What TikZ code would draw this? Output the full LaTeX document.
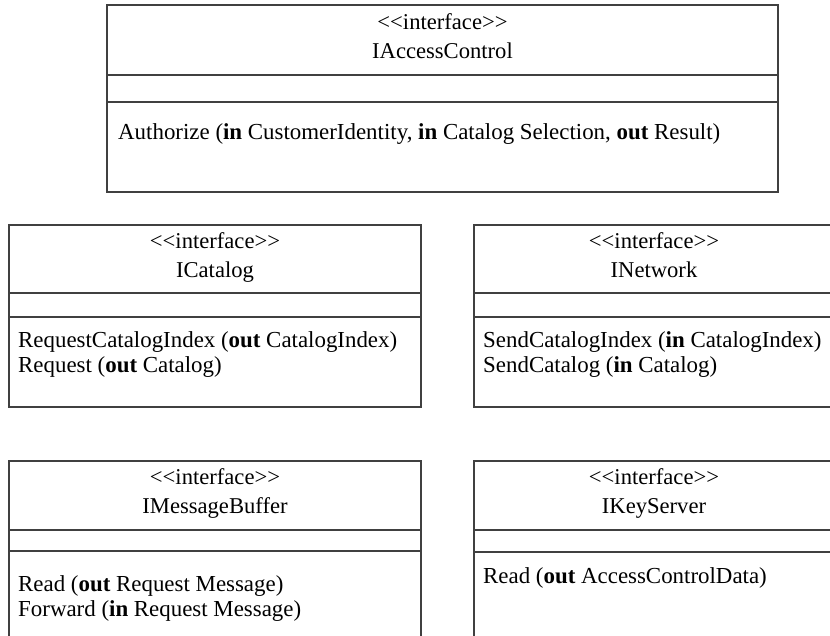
\documentclass[tikz,border=0pt]{standalone}
\usepackage{fontspec}
\setmainfont{Liberation Serif}
\definecolor{boxline}{gray}{0.25}
\newcommand{\stereo}{\textless{}\textless{}interface\textgreater{}\textgreater{}}
\begin{document}
\begin{tikzpicture}[x=1pt,y=-1pt,
  box/.style={draw=boxline, line width=1.1pt},
  sep/.style={draw=boxline, line width=1.1pt},
  txt/.style={inner sep=0pt, anchor=base, font=\fontsize{22.6}{27}\selectfont, text=black},
  op/.style={inner sep=0pt, anchor=base west, font=\fontsize{22.9}{27}\selectfont, text=black}]
\useasboundingbox (0,0) rectangle (830,635);
\clip (0,0) rectangle (830,635);

% IAccessControl
\draw[box] (107,5) rectangle (778,192);
\draw[sep] (107,75) -- (778,75);
\draw[sep] (107,102) -- (778,102);
\node[txt] (acS) at (442.5,29) {\stereo};
\node[txt] (acN) at (442.5,58) {IAccessControl};
\node[op] (acO) at (118,139) {Authorize (\textbf{in} CustomerIdentity, \textbf{in} Catalog Selection, \textbf{out} Result)};

% ICatalog
\draw[box] (9,225) rectangle (421,407);
\draw[sep] (9,293) -- (421,293);
\draw[sep] (9,317) -- (421,317);
\node[txt] (caS) at (215,248) {\stereo};
\node[txt] (caN) at (215,277) {ICatalog};
\node[op] (caO1) at (18,347) {RequestCatalogIndex (\textbf{out} CatalogIndex)};
\node[op] (caO2) at (18,372) {Request (\textbf{out} Catalog)};

% INetwork
\draw[box] (474,225) rectangle (834,407);
\draw[sep] (474,293) -- (834,293);
\draw[sep] (474,317) -- (834,317);
\node[txt] (neS) at (654,248) {\stereo};
\node[txt] (neN) at (654,277) {INetwork};
\node[op] (neO1) at (483,347) {SendCatalogIndex (\textbf{in} CatalogIndex)};
\node[op] (neO2) at (483,372) {SendCatalog (\textbf{in} Catalog)};

% IMessageBuffer
\draw[box] (9,461) rectangle (421,645);
\draw[sep] (9,530) -- (421,530);
\draw[sep] (9,551) -- (421,551);
\node[txt] (mbS) at (215,484) {\stereo};
\node[txt] (mbN) at (215,513) {IMessageBuffer};
\node[op] (mbO1) at (18,591) {Read (\textbf{out} Request Message)};
\node[op] (mbO2) at (18,616) {Forward (\textbf{in} Request Message)};

% IKeyServer
\draw[box] (474,461) rectangle (834,645);
\draw[sep] (474,530) -- (834,530);
\draw[sep] (474,552) -- (834,552);
\node[txt] (ksS) at (654,484) {\stereo};
\node[txt] (ksN) at (654,513) {IKeyServer};
\node[op] (ksO) at (483,583) {Read (\textbf{out} AccessControlData)};
\end{tikzpicture}
\end{document}
